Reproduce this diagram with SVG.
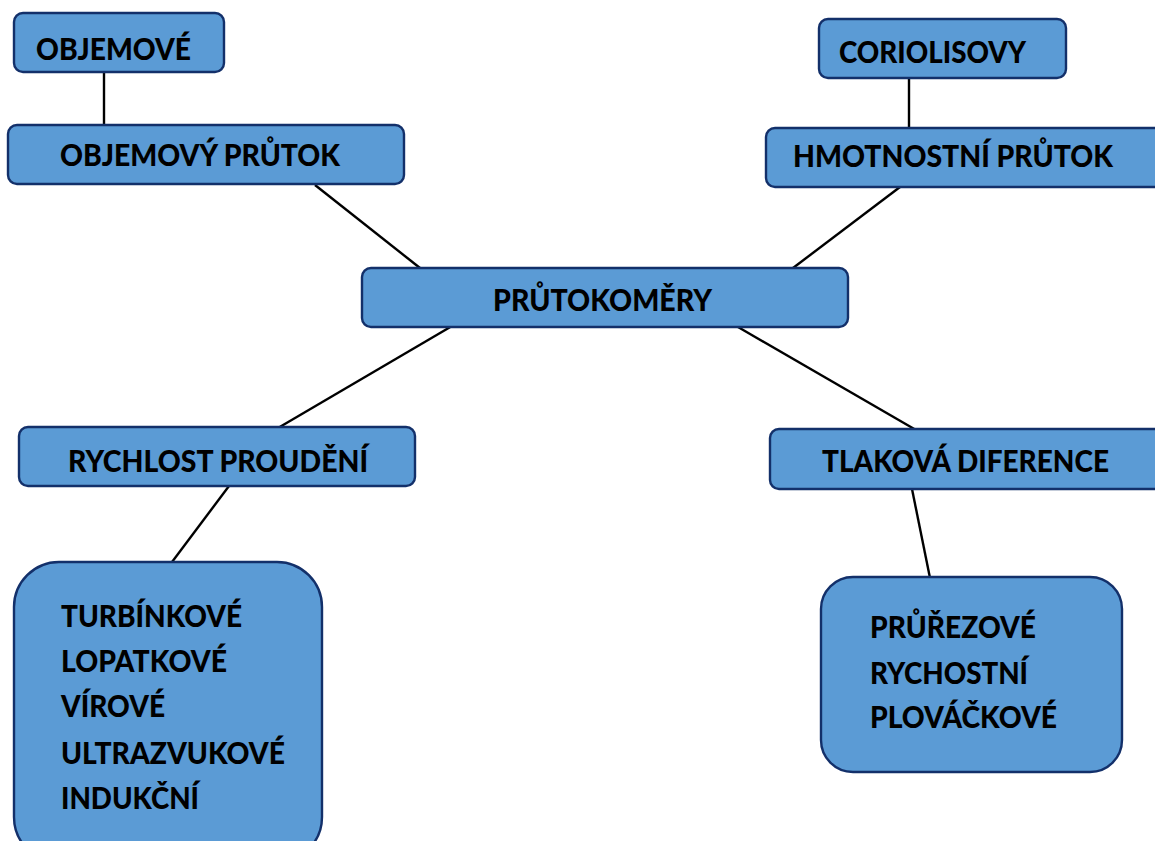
<svg xmlns="http://www.w3.org/2000/svg" width="1155" height="841" viewBox="0 0 1155 841">
<style>
.box{fill:#5B9BD5;stroke:#13306A;stroke-width:2.4}
.t{font-family:Lato,"Open Sans","Liberation Sans",sans-serif;font-weight:900;font-size:30px;fill:#000}
.c{stroke:#000;stroke-width:2.4;fill:none}
</style>
<rect width="1155" height="841" fill="#fff"/>
<g id="connectors">
<line class="c" x1="104" y1="72" x2="104" y2="126"/>
<line class="c" x1="909" y1="78" x2="909" y2="128"/>
<line class="c" x1="315" y1="185" x2="420" y2="268"/>
<line class="c" x1="900" y1="187" x2="793" y2="268"/>
<line class="c" x1="452" y1="326" x2="278" y2="428"/>
<line class="c" x1="738" y1="327" x2="916" y2="430"/>
<line class="c" x1="229" y1="486" x2="172" y2="562"/>
<line class="c" x1="912" y1="489" x2="930" y2="578"/>
</g>
<g id="objemove">
<rect class="box" x="14" y="13" width="210" height="59" rx="9"/>
<text class="t" x="36" y="60" textLength="155" lengthAdjust="spacingAndGlyphs">OBJEMOVÉ</text>
</g>
<g id="objemovy-prutok">
<rect class="box" x="8" y="125" width="396" height="59" rx="9"/>
<text class="t" x="60" y="166" textLength="280" lengthAdjust="spacingAndGlyphs">OBJEMOVÝ PRŮTOK</text>
</g>
<g id="coriolisovy">
<rect class="box" x="819" y="19" width="247" height="59" rx="9"/>
<text class="t" x="839" y="63" textLength="187" lengthAdjust="spacingAndGlyphs">CORIOLISOVY</text>
</g>
<g id="hmotnostni-prutok">
<rect class="box" x="766" y="128" width="400" height="59" rx="9"/>
<text class="t" x="793" y="167" textLength="320" lengthAdjust="spacingAndGlyphs">HMOTNOSTNÍ PRŮTOK</text>
</g>
<g id="prutokomery">
<rect class="box" x="362" y="268" width="486" height="59" rx="9"/>
<text class="t" x="493" y="311" textLength="219" lengthAdjust="spacingAndGlyphs">PRŮTOKOMĚRY</text>
</g>
<g id="rychlost-proudeni">
<rect class="box" x="19" y="427" width="396" height="59" rx="9"/>
<text class="t" x="68" y="472" textLength="300" lengthAdjust="spacingAndGlyphs">RYCHLOST PROUDĚNÍ</text>
</g>
<g id="tlakova-diference">
<rect class="box" x="770" y="429" width="400" height="60" rx="9"/>
<text class="t" x="822" y="472" textLength="287" lengthAdjust="spacingAndGlyphs">TLAKOVÁ DIFERENCE</text>
</g>
<g id="rychlost-list">
<rect class="box" x="14" y="562" width="308" height="300" rx="45"/>
<text class="t" x="61" y="627" textLength="181" lengthAdjust="spacingAndGlyphs">TURBÍNKOVÉ</text>
<text class="t" x="61" y="672" textLength="166" lengthAdjust="spacingAndGlyphs">LOPATKOVÉ</text>
<text class="t" x="61" y="717" textLength="104" lengthAdjust="spacingAndGlyphs">VÍROVÉ</text>
<text class="t" x="61" y="764" textLength="224" lengthAdjust="spacingAndGlyphs">ULTRAZVUKOVÉ</text>
<text class="t" x="61" y="809" textLength="138" lengthAdjust="spacingAndGlyphs">INDUKČNÍ</text>
</g>
<g id="tlak-list">
<rect class="box" x="821" y="577" width="301" height="195" rx="32"/>
<text class="t" x="870" y="638" textLength="166" lengthAdjust="spacingAndGlyphs">PRŮŘEZOVÉ</text>
<text class="t" x="870" y="684" textLength="158" lengthAdjust="spacingAndGlyphs">RYCHOSTNÍ</text>
<text class="t" x="870" y="728" textLength="187" lengthAdjust="spacingAndGlyphs">PLOVÁČKOVÉ</text>
</g>
</svg>
